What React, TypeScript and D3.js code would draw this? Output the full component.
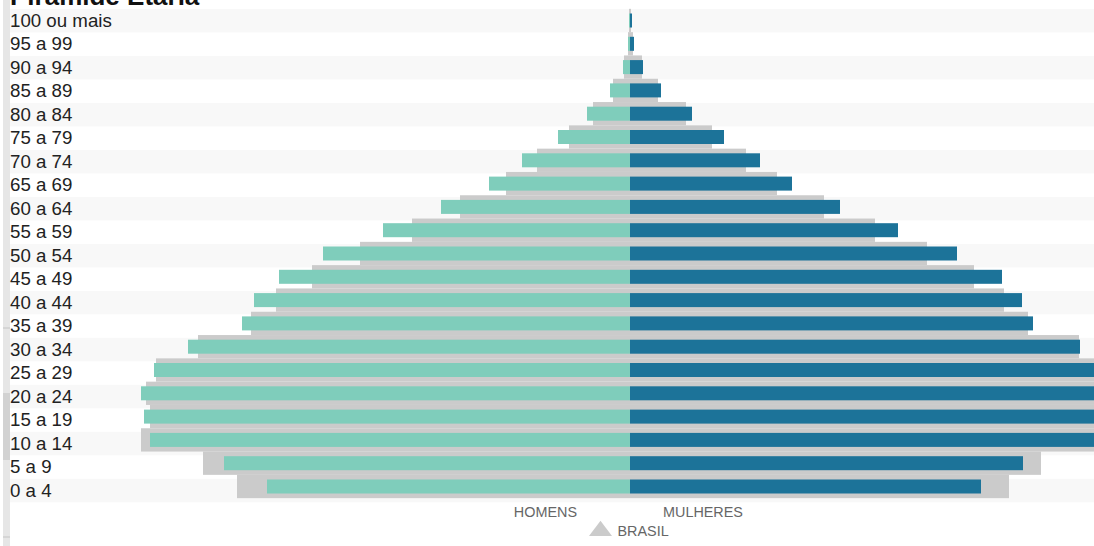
import React from "react";
import * as d3 from "d3";

// Age groups, oldest first (top of the pyramid)
const ageGroups = [
  "100 ou mais", "95 a 99", "90 a 94", "85 a 89", "80 a 84", "75 a 79",
  "70 a 74", "65 a 69", "60 a 64", "55 a 59", "50 a 54", "45 a 49",
  "40 a 44", "35 a 39", "30 a 34", "25 a 29", "20 a 24", "15 a 19",
  "10 a 14", "5 a 9", "0 a 4",
];

// Share of the population (%) per age group
const homens = [
  0.01, 0.02, 0.07, 0.2, 0.43, 0.72, 1.08, 1.41, 1.89, 2.47, 3.07, 3.51,
  3.76, 3.88, 4.42, 4.76, 4.89, 4.86, 4.8, 4.06, 3.63,
];
const mulheres = [
  0.02, 0.04, 0.13, 0.31, 0.62, 0.94, 1.3, 1.62, 2.1, 2.68, 3.27, 3.72,
  3.92, 4.03, 4.5, 4.8, 4.85, 4.78, 4.7, 3.93, 3.51,
];
// Reference pyramid: Brasil
const brasilHomens = [
  0.01, 0.02, 0.06, 0.17, 0.37, 0.61, 0.93, 1.24, 1.7, 2.18, 2.7, 3.18,
  3.54, 3.79, 4.32, 4.74, 4.84, 4.8, 4.89, 4.27, 3.93,
];
const brasilMulheres = [
  0.01, 0.03, 0.12, 0.28, 0.56, 0.82, 1.16, 1.47, 1.94, 2.45, 2.97, 3.44,
  3.74, 3.98, 4.49, 4.75, 4.8, 4.7, 4.75, 4.11, 3.79,
];

const legendLabels = { homens: "HOMENS", mulheres: "MULHERES", brasil: "BRASIL" };

const W = 1094;
const H = 546;
const CENTER = 630;
const TEAL = "#7fcdbb";
const BLUE = "#1c7399";
const GRAY = "#cbcbcb";
const FONT = "'Liberation Sans', Arial, sans-serif";

export default function App() {
  const x = d3.scaleLinear().domain([0, 5]).range([0, 500]);
  // bar rows
  const y = d3
    .scaleBand<string>()
    .domain(ageGroups)
    .range([8.85, 8.85 + 23.3 * ageGroups.length])
    .padding(0);
  // label column rows (table cells)
  const yRow = d3
    .scaleBand<string>()
    .domain(ageGroups)
    .range([9, 9 + 23.49 * ageGroups.length])
    .padding(0);
  const bw = y.bandwidth();
  const rw = yRow.bandwidth();
  const barH = 14;

  return (
    <div style={{ position: "absolute", left: 0, top: 0 }}>
      <svg width={W} height={H} style={{ display: "block" }}>
        <rect x={0} y={0} width={W} height={H} fill="#ffffff" />
        {/* side rail */}
        <rect x={3} y={0} width={7} height={H} fill="#e6e6e6" />
        <rect x={3} y={393} width={7} height={67} fill="#d2d2d2" />
        <line x1={3} x2={10} y1={328} y2={328} stroke="#c4c4c4" />
        <line x1={3} x2={10} y1={537} y2={537} stroke="#c4c4c4" />

        {/* title */}
        <text x={10} y={4.5} fontFamily={FONT} fontWeight="bold" fontSize={26} fill="#111">
          Pirâmide Etária
        </text>

        {/* alternating row bands */}
        {ageGroups.map((a, i) =>
          i % 2 === 0 ? (
            <rect key={"band" + a} x={10} y={yRow(a)!} width={W - 10} height={rw} fill="#f8f8f8" />
          ) : null
        )}

        {/* Brasil reference bars */}
        {ageGroups.map((a, i) => (
          <g key={"br" + a}>
            <rect x={CENTER - x(brasilHomens[i])} y={y(a)!} width={x(brasilHomens[i])} height={bw} fill={GRAY} />
            <rect x={CENTER} y={y(a)!} width={x(brasilMulheres[i])} height={bw} fill={GRAY} />
          </g>
        ))}

        {/* local population bars */}
        {ageGroups.map((a, i) => {
          const cy = y(a)! + bw / 2;
          return (
            <g key={"bar" + a}>
              <rect x={CENTER - x(homens[i])} y={cy - barH / 2} width={x(homens[i])} height={barH} fill={TEAL} />
              <rect x={CENTER} y={cy - barH / 2} width={x(mulheres[i])} height={barH} fill={BLUE} />
            </g>
          );
        })}

        {/* age labels */}
        {ageGroups.map((a) => (
          <text key={"lbl" + a} x={10} y={yRow(a)! + 17.7} fontFamily={FONT} fontSize={18.7} fill="#222">
            {a}
          </text>
        ))}

        {/* legend */}
        <text x={577} y={516.7} textAnchor="end" fontFamily={FONT} fontSize={14.4} fill="#666">
          {legendLabels.homens}
        </text>
        <text x={663} y={516.7} fontFamily={FONT} fontSize={14.4} fill="#666">
          {legendLabels.mulheres}
        </text>
        <path d="M589,536 L600.5,520.7 L612,536 Z" fill={GRAY} />
        <text x={617.5} y={536} fontFamily={FONT} fontSize={14.4} fill="#666">
          {legendLabels.brasil}
        </text>
      </svg>
    </div>
  );
}
